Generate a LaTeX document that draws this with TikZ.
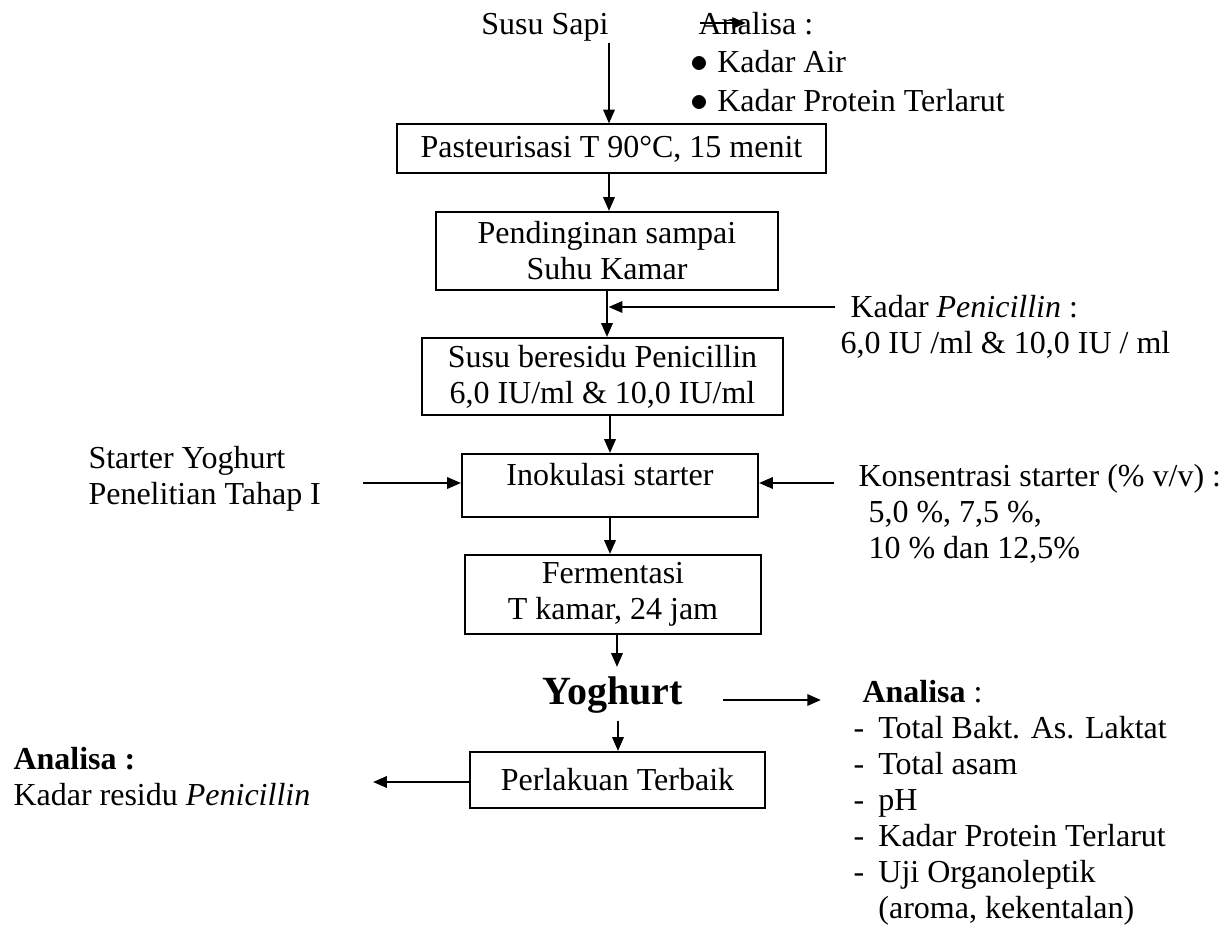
\documentclass[tikz,border=0pt]{standalone}
\usepackage{fontspec}
\setmainfont{Liberation Serif}
\usetikzlibrary{arrows.meta}

\tikzset{
	box/.style={draw,line width=0.8pt,inner sep=2pt,align=center},
	txt/.style={inner sep=0pt,align=left,anchor=west},
	arr/.style={line width=0.9pt,-{Triangle[length=5.5pt,width=4.5pt]}}
}
\newcommand{\blt}{{\fontsize{14.5}{14.5}\selectfont$\bullet$}}

\begin{document}
\fontsize{12.8}{14.4}\selectfont
\begin{tikzpicture}[x=0.4pt,y=-0.4pt]
		
		\useasboundingbox (0,0) rectangle (1222,932);
		
		\node [inner sep=0pt,anchor=base] (susu) at (545,35) {Susu Sapi};
		\node [inner sep=0pt,anchor=base west] (ana1) at (698,35) {Analisa :};
		\node [inner sep=0pt,anchor=base west] (air) at (690,73) {\blt\hspace{3.5pt}Kadar Air};
		\node [inner sep=0pt,anchor=base west] (prot) at (690,112) {\blt\hspace{3.5pt}Kadar Protein Terlarut};
		
		\node [box,minimum width=171.6pt,minimum height=19.6pt] (box1) at (611.5,149) {Pasteurisasi T 90°C, 15 menit};
		\node [box,minimum width=136.8pt,minimum height=31.2pt] (box2) at (607,251) {Pendinginan sampai\\Suhu Kamar};
		\node [box,minimum width=144.4pt,minimum height=30.8pt] (box3) at (602.5,376.5) {Susu beresidu Penicillin\\6,0 IU/ml \& 10,0 IU/ml};
		\node [box,minimum width=118.4pt,minimum height=25.2pt,text depth=9pt] (box4) at (610,485.5) {Inokulasi starter};
		\node [box,minimum width=118.4pt,minimum height=31.6pt] (box5) at (613,594.5) {Fermentasi\\T kamar, 24 jam};
		\node [inner sep=0pt,font=\fontsize{16}{18}\selectfont\bfseries] (yog) at (613,695) {Yoghurt};
		\node [box,minimum width=118pt,minimum height=22.4pt] (box6) at (617.5,780) {Perlakuan Terbaik};
		
		\node [txt] (pen) at (840,327) {\hspace{4pt}Kadar \textit{Penicillin} :\\6,0 IU /ml \& 10,0 IU / ml};
		\node [txt] (starter) at (88,479) {Starter Yoghurt\\Penelitian Tahap I};
		\node [txt] (kons) at (858,514) {Konsentrasi starter (\% v/v) :\\\hspace{4pt}5,0 \%, 7,5 \%,\\\hspace{4pt}10 \% dan 12,5\%};
		\node [txt] (ana2) at (853,803) {\hspace{3.6pt}\textbf{Analisa} :\\-\hspace{5.7pt}Total Bakt. As. Laktat\\-\hspace{5.7pt}Total asam\\-\hspace{5.7pt}pH\\-\hspace{5.7pt}Kadar Protein Terlarut\\-\hspace{5.7pt}Uji Organoleptik\\\phantom{-}\hspace{5.7pt}(aroma, kekentalan)};
		\node [txt] (ana3) at (13,777) {\textbf{Analisa :}\\Kadar residu \textit{Penicillin}};
		
		\coordinate (susuS) at (609,43);
		\coordinate (anaA) at (700,23);
		\coordinate (anaB) at (746,23);
		\coordinate (penS) at (835,307);
		\coordinate (stS) at (363,483);
		\coordinate (konS) at (834,483);
		\coordinate (yogN) at (617,667);
		\coordinate (yogA) at (723,700);
		\coordinate (yogB) at (821,700);
		\coordinate (yogS) at (618,721);
		\coordinate (resE) at (373,782);
		
		\draw [arr] (susuS) -- (susuS |- box1.north);
		\draw [arr] (anaA) -- (anaB);
		\draw [arr] (box1.south -| susuS) -- (box2.north -| susuS);
		\draw [arr] (box2.south) -- (box2.south |- box3.north);
		\draw [arr,shorten >=0.6pt] (penS) -- (penS -| box2.south);
		\draw [arr] (box4.north |- box3.south) -- (box4.north);
		\draw [arr] (stS) -- (stS -| box4.west);
		\draw [arr] (konS) -- (konS -| box4.east);
		\draw [arr] (box4.south) -- (box4.south |- box5.north);
		\draw [arr] (box5.south -| yogN) -- (yogN);
		\draw [arr,line width=1.1pt] (yogA) -- (yogB);
		\draw [arr] (yogS) -- (yogS |- box6.north);
		\draw [arr] (box6.west |- resE) -- (resE);
		
\end{tikzpicture}
\end{document}
